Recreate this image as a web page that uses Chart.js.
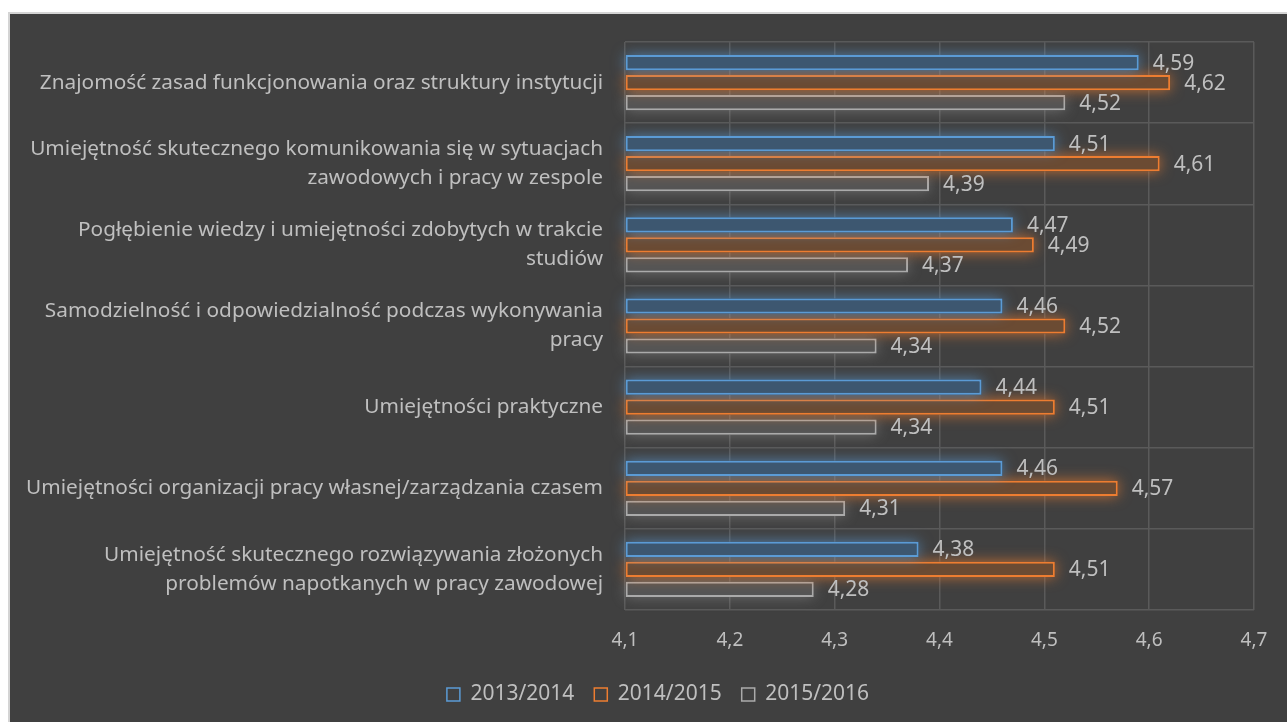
<!DOCTYPE html>
<html>
<head>
<meta charset="utf-8">
<script src="https://cdn.jsdelivr.net/npm/chart.js@4.4.1/dist/chart.umd.min.js"></script>
<style>
  html, body { margin: 0; padding: 0; background: #ffffff; width: 1287px; height: 722px; overflow: hidden; }
  #wrap { position: absolute; left: 8px; top: 12px; width: 1279px; height: 710px; background: #404040; border-left: 2px solid #d4d4d4; border-top: 2px solid #d4d4d4; box-sizing: border-box; }
  #c { position: absolute; left: 0; top: 0; }
</style>
</head>
<body>
<div id="wrap"><canvas id="c" width="1277" height="708"></canvas></div>
<script>
const categories = [
  "Znajomość zasad funkcjonowania oraz struktury instytucji",
  ["Umiejętność skutecznego komunikowania się w sytuacjach", "zawodowych i pracy w zespole"],
  ["Pogłębienie wiedzy i umiejętności zdobytych w trakcie", "studiów"],
  ["Samodzielność i odpowiedzialność podczas wykonywania", "pracy"],
  "Umiejętności praktyczne",
  "Umiejętności organizacji pracy własnej/zarządzania czasem",
  ["Umiejętność skutecznego rozwiązywania złożonych", "problemów napotkanych w pracy zawodowej"]
];
const seriesNames = ["2013/2014", "2014/2015", "2015/2016"];
const values2013 = [4.59, 4.51, 4.47, 4.46, 4.44, 4.46, 4.38];
const values2014 = [4.62, 4.61, 4.49, 4.52, 4.51, 4.57, 4.51];
const values2015 = [4.52, 4.39, 4.37, 4.34, 4.34, 4.31, 4.28];
const xTicks = [4.1, 4.2, 4.3, 4.4, 4.5, 4.6, 4.7];
const axisMin = 4.1, axisMax = 4.7;

const FONT = "'Noto Sans', 'Open Sans', sans-serif";
const TXT = "#bfbfbf";
const colors = [
  { border: "#5b9bd5", fill: "#3d5770", glow: "rgba(91,155,213,0.7)" },
  { border: "#ed7d31", fill: "#6b4b33", glow: "rgba(237,125,49,0.75)" },
  { border: "#aaaaaa", fill: "#555555", glow: "rgba(170,170,170,0.45)" }
];
const fmt = v => v.toFixed(2).replace('.', ',');

const glowPlugin = {
  id: 'glow',
  beforeDatasetDraw(chart, args) {
    const ctx = chart.ctx;
    const c = colors[args.index];
    const left = chart.chartArea.left;
    ctx.save();
    ctx.shadowColor = c.glow;
    ctx.shadowBlur = 14;
    ctx.fillStyle = c.fill;
    args.meta.data.forEach(bar => {
      const p = bar.getProps(['x', 'y', 'base', 'height'], true);
      const x0 = Math.max(Math.min(p.x, p.base), left);
      const x1 = Math.max(p.x, p.base);
      ctx.fillRect(x0, p.y - p.height / 2, x1 - x0, p.height);
    });
    ctx.restore();
  }
};
const labelPlugin = {
  id: 'vlabels',
  afterDatasetsDraw(chart) {
    const ctx = chart.ctx;
    ctx.save();
    ctx.font = "21px " + FONT;
    ctx.fillStyle = TXT;
    ctx.textAlign = 'left';
    ctx.textBaseline = 'middle';
    chart.data.datasets.forEach((ds, i) => {
      const meta = chart.getDatasetMeta(i);
      meta.data.forEach((bar, j) => {
        ctx.fillText(fmt(ds.data[j]), bar.x + 14, bar.y + 1);
      });
    });
    ctx.restore();
  }
};
const legendShift = {
  id: 'legendShift',
  afterLayout(chart) {
    if (chart.legend) { chart.legend.left += 26; chart.legend.right += 26; }
  }
};

const dsData = [values2013, values2014, values2015];
new Chart(document.getElementById('c'), {
  type: 'bar',
  data: {
    labels: categories,
    datasets: dsData.map((d, i) => ({
      label: seriesNames[i],
      data: d,
      base: axisMin,
      backgroundColor: colors[i].fill,
      borderColor: colors[i].border,
      borderWidth: 2,
      borderSkipped: false,
      categoryPercentage: 0.74,
      barPercentage: 0.76
    }))
  },
  options: {
    indexAxis: 'y',
    responsive: false,
    animation: false,
    devicePixelRatio: 1,
    layout: { padding: { top: 28, right: 33, bottom: 7, left: 0 } },
    scales: {
      x: {
        min: axisMin, max: axisMax,
        afterBuildTicks: s => { s.ticks = xTicks.map(v => ({ value: v })); },
        afterFit: s => { s.height = 54; },
        ticks: { color: TXT, font: { size: 19, family: FONT }, padding: 19,
          callback: v => (Math.round(v * 10) / 10).toFixed(1).replace('.', ',') },
        grid: { color: "#5a5a5a", lineWidth: 1.5, drawTicks: false },
        border: { display: false }
      },
      y: {
        afterFit: s => { s.width = 615; s.paddingTop = 0; s.paddingBottom = 0; },
        ticks: { color: TXT, font: { size: 20.8, family: FONT, lineHeight: 1.4 }, padding: 22 },
        grid: { color: "#5a5a5a", lineWidth: 1.5, offset: true, drawTicks: false },
        border: { display: false }
      }
    },
    plugins: {
      legend: {
        position: 'bottom',
        labels: {
          color: TXT,
          font: { size: 21, family: FONT },
          boxWidth: 13, boxHeight: 13, padding: 20,
          generateLabels: chart => chart.data.datasets.map((ds, i) => ({
            text: ds.label, fillStyle: 'rgba(0,0,0,0)', strokeStyle: colors[i].border,
            lineWidth: 1.5, fontColor: TXT, datasetIndex: i, hidden: false
          }))
        }
      },
      tooltip: { enabled: false }
    }
  },
  plugins: [glowPlugin, labelPlugin, legendShift]
});
</script>
</body>
</html>
